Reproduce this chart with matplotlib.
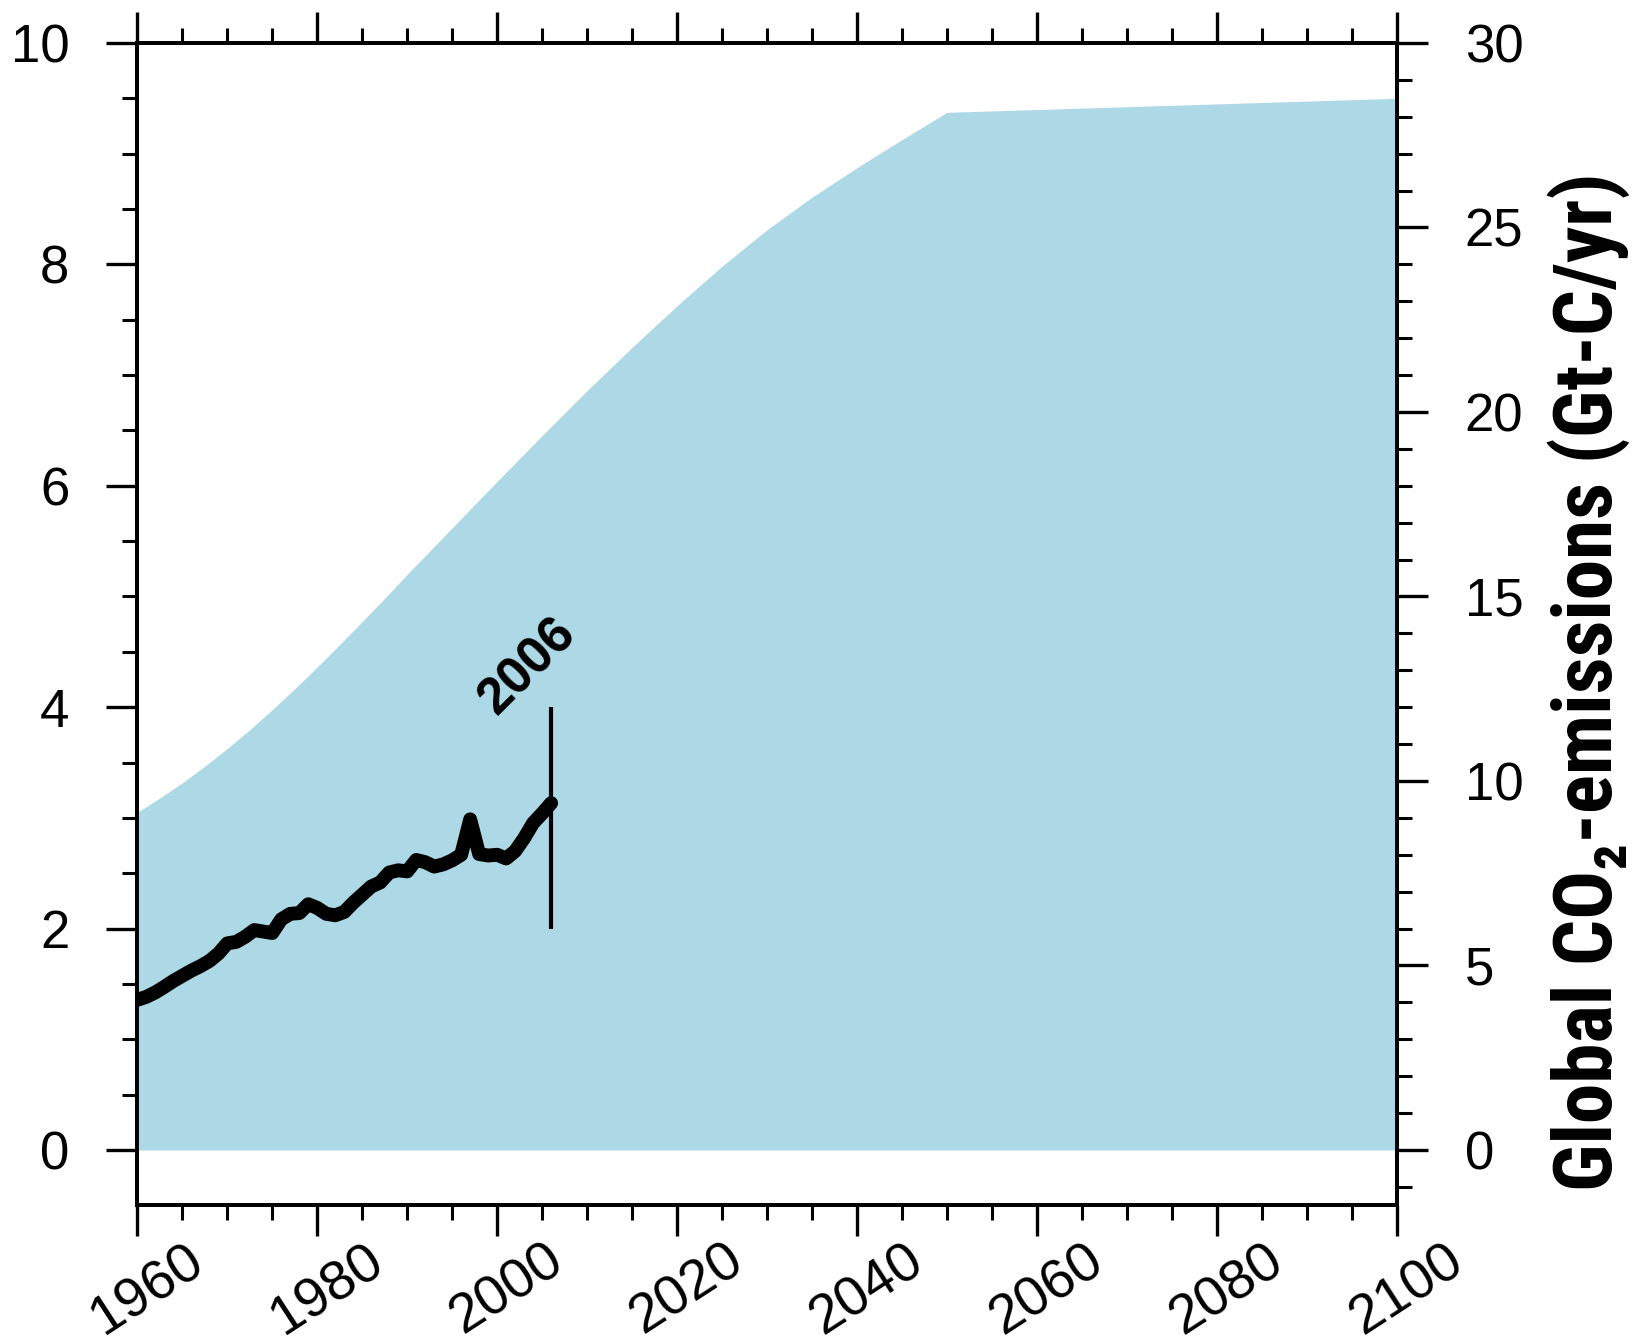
import numpy as np
import matplotlib
matplotlib.use("Agg")
import matplotlib.pyplot as plt
from matplotlib import font_manager
from matplotlib.ticker import MultipleLocator, FixedLocator
from matplotlib.transforms import ScaledTranslation

# Scenario envelope of global CO2 emissions (Gt-C/yr)
scenario_years = [1960, 1962.5, 1965, 1967.5, 1970, 1972.5, 1975, 1977.5, 1980,
                  1982.5, 1985, 1987.5, 1990, 1995, 2000, 2005, 2010, 2015, 2020,
                  2025, 2030, 2035, 2040, 2045, 2050, 2100]
scenario_emis = [9.15, 9.54, 9.95, 10.40, 10.88, 11.39, 11.93, 12.50, 13.09,
                 13.70, 14.32, 14.95, 15.60, 16.86, 18.12, 19.36, 20.58, 21.75, 22.88,
                 23.95, 24.94, 25.82, 26.62, 27.38, 28.12, 28.50]

# Observed annual global CO2 emissions (Gt-C/yr), 1960-2006
obs_years = list(range(1960, 2007))
obs_emis = [4.07, 4.15, 4.27, 4.42, 4.58, 4.72, 4.86, 4.98, 5.12, 5.32,
            5.60, 5.64, 5.78, 5.96, 5.92, 5.88, 6.25, 6.40, 6.42, 6.66,
            6.56, 6.40, 6.36, 6.45, 6.70, 6.92, 7.14, 7.25, 7.52, 7.58,
            7.55, 7.86, 7.80, 7.68, 7.74, 7.85, 8.00, 8.96, 8.02, 7.98,
            8.00, 7.90, 8.10, 8.45, 8.86, 9.12, 9.40]

# Marker for the last observed year
marker_year = 2006
marker_span = [6.0, 12.0]
marker_label = "2006"

x_ticks = [1960, 1980, 2000, 2020, 2040, 2060, 2080, 2100]
left_ticks = [0, 2, 4, 6, 8, 10]
right_ticks = [0, 5, 10, 15, 20, 25, 30]
right_label = "Global CO\u2082-emissions (Gt-C/yr)"

fill_color = "#ADD8E6"
tick_font = "Liberation Sans"


def first_available(names):
    for name in names:
        try:
            font_manager.findfont(font_manager.FontProperties(family=name, weight="bold"),
                                  fallback_to_default=False)
            return name
        except Exception:
            continue
    return "Liberation Sans"


label_font = first_available(["Liberation Sans Narrow", "Arial Narrow", "Roboto Condensed",
                              "Open Sans Condensed", "Liberation Sans"])

fig = plt.figure(figsize=(16.33, 13.43), dpi=100)
ax = fig.add_axes([0.0841, 0.1025, 0.7712, 0.8655])
ax2 = ax.twinx()

ax.set_xlim(1960, 2100)
ax.set_ylim(-0.5, 10)
ax2.set_ylim(-1.5, 30)

ax2.fill_between(scenario_years, 0, scenario_emis, color=fill_color, linewidth=0, zorder=1)
ax2.plot(obs_years, obs_emis, color="black", linewidth=10,
         solid_capstyle="round", solid_joinstyle="round", zorder=3)
ax2.vlines(marker_year, marker_span[0], marker_span[1], color="black", linewidth=3, zorder=3)
ax2.text(2003.4, 13.1, marker_label, rotation=45, ha="center", va="center",
         fontsize=37, fontweight="bold", family=tick_font, zorder=4)

# Ticks
ax.xaxis.set_major_locator(FixedLocator(x_ticks))
ax.xaxis.set_minor_locator(MultipleLocator(5))
ax.yaxis.set_major_locator(FixedLocator(left_ticks))
ax.yaxis.set_minor_locator(FixedLocator(np.arange(0, 10.01, 0.5)))
ax2.yaxis.set_major_locator(FixedLocator(right_ticks))
ax2.yaxis.set_minor_locator(FixedLocator(np.arange(-1, 30.01, 1)))

ax.tick_params(axis="x", which="both", direction="out", top=True, bottom=True,
               labeltop=False, labelbottom=True)
ax.tick_params(axis="y", which="both", direction="out", left=True, right=False,
               labelleft=True, labelright=False)
ax2.tick_params(axis="y", which="both", direction="out", left=False, right=True,
                labelleft=False, labelright=True)
for a in (ax, ax2):
    a.tick_params(axis="y", which="major", length=22, width=2.4, pad=27, labelsize=38)
    a.tick_params(axis="y", which="minor", length=11, width=2.2)
    for sp in a.spines.values():
        sp.set_linewidth(2.8)
ax.tick_params(axis="x", which="major", length=22, width=2.4, pad=-1, labelsize=40)
ax.tick_params(axis="x", which="minor", length=11, width=2.2)

ax.set_xticklabels([str(t) for t in x_ticks], rotation=33, ha="center", va="top")
shift = ScaledTranslation(0.10, 0, fig.dpi_scale_trans)
for lab in ax.get_xticklabels():
    lab.set_transform(lab.get_transform() + shift)
for lab in ax.get_xticklabels() + ax.get_yticklabels() + ax2.get_yticklabels():
    lab.set_family(tick_font)

ylab = fig.text(1612 / 1633, 1 - 682 / 1343, right_label, rotation=90, rotation_mode="anchor",
                ha="center", va="baseline", fontsize=60, fontweight="bold",
                family=[label_font, "DejaVu Sans"])

# Fit the axis title to the height of the plotted area
renderer = fig.canvas.get_renderer()
length_px = ylab.get_window_extent(renderer).height
target_px = 1020.0
if length_px > target_px:
    ylab.set_fontsize(60 * target_px / length_px)

fig.savefig("out.png", dpi=100)
